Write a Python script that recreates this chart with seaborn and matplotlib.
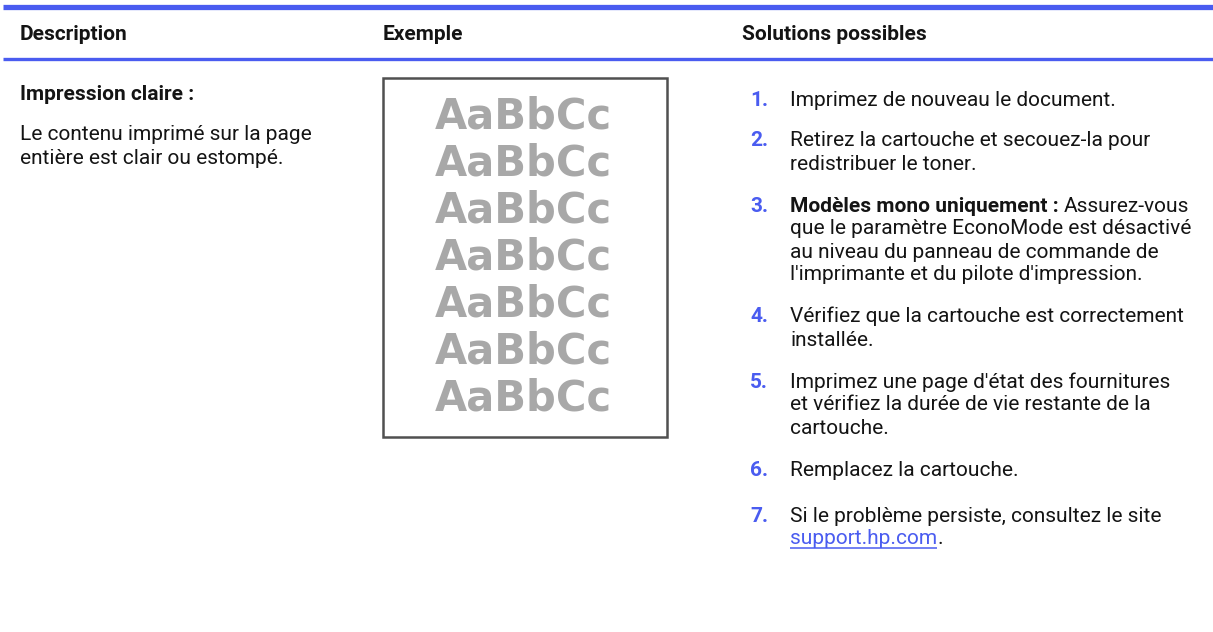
import matplotlib
matplotlib.use("Agg")
import matplotlib.pyplot as plt
import seaborn as sns

sns.set_theme(style="white")
plt.rcParams['font.family'] = ['Roboto', 'DejaVu Sans']

# ---- content ----
headers = ["Description", "Exemple", "Solutions possibles"]
issue_title = "Impression claire :"
issue_desc = ["Le contenu imprimé sur la page", "entière est clair ou estompé."]
sample_word = "AaBbCc"
sample_rows = 7
step_numbers = ["1.", "2.", "3.", "4.", "5.", "6.", "7."]
step_lines = [
    ["Imprimez de nouveau le document."],
    ["Retirez la cartouche et secouez-la pour", "redistribuer le toner."],
    ["Assurez-vous", "que le paramètre EconoMode est désactivé",
     "au niveau du panneau de commande de", "l'imprimante et du pilote d'impression."],
    ["Vérifiez que la cartouche est correctement", "installée."],
    ["Imprimez une page d'état des fournitures", "et vérifiez la durée de vie restante de la",
     "cartouche."],
    ["Remplacez la cartouche."],
    ["Si le problème persiste, consultez le site", ""],
]
step3_bold = "Modèles mono uniquement : "
link_text = "support.hp.com"

# ---- style ----
W, H = 1213, 632
BLUE = "#4a5cf0"
TXT = "#141414"
FS = 15.0
LH = 23
col_x = [20, 383, 742]
num_x, txt_x = 750, 790

fig = plt.figure(figsize=(W / 100, H / 100), dpi=100)
ax = fig.add_axes([0, 0, 1, 1])
ax.set_xlim(0, W)
ax.set_ylim(H, 0)
ax.axis("off")

# header rules
ax.hlines([6.5], 3, W, color=BLUE, lw=3.8)
ax.hlines([58.5], 3, W, color=BLUE, lw=2.4)

for x, h in zip(col_x, headers):
    ax.text(x, 40, h, fontsize=FS, fontweight="bold", color=TXT, va="baseline")

ax.text(col_x[0], 99.5, issue_title, fontsize=FS, fontweight="bold", color=TXT, va="baseline")
for i, line in enumerate(issue_desc):
    ax.text(col_x[0], 140.5 + i * LH, line, fontsize=FS, color=TXT, va="baseline")

# sample box
ax.add_patch(plt.Rectangle((383, 78), 284, 359, fill=False, ec="#505050", lw=1.8))
for r in range(sample_rows):
    ax.text(523, 112 + r * 47, sample_word, fontsize=30, fontweight="bold",
            family="DejaVu Sans", color="#a8a8a8", ha="center", va="center_baseline")

# steps
renderer = fig.canvas.get_renderer()
starts = [105.5, 146.5, 211.5, 322.5, 387.5, 476.5, 521.5]
for k, (num, lines, y0) in enumerate(zip(step_numbers, step_lines, starts)):
    ax.text(num_x, y0, num, fontsize=FS, fontweight="bold", color=BLUE, va="baseline")
    for j, line in enumerate(lines):
        y = y0 + j * LH
        x = txt_x
        if k == 2 and j == 0:
            t = ax.text(x, y, step3_bold, fontsize=FS, fontweight="bold", color=TXT, va="baseline")
            x += t.get_window_extent(renderer).width
        if k == 6 and j == 1:
            t = ax.text(x, y, link_text, fontsize=FS, color=BLUE, va="baseline")
            wlink = t.get_window_extent(renderer).width
            ax.hlines(y + 3, x, x + wlink, color=BLUE, lw=1.1)
            ax.text(x + wlink, y, ".", fontsize=FS, color=TXT, va="baseline")
            continue
        ax.text(x, y, line, fontsize=FS, color=TXT, va="baseline")

fig.savefig("out.png", dpi=100, facecolor="white")
